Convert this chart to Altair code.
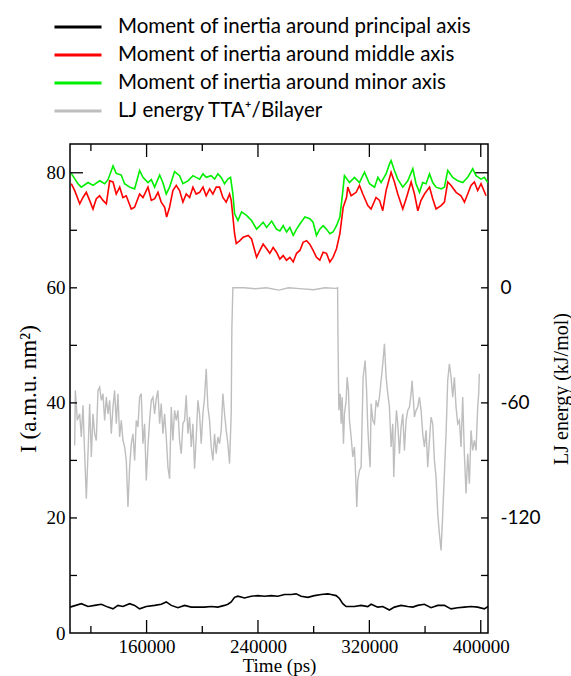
import altair as alt
import pandas as pd

# ---------------- data ----------------
S1 = "Moment of inertia around principal axis"
S2 = "Moment of inertia around middle axis"
S3 = "Moment of inertia around minor axis"
S4 = "LJ energy TTA\u207a/Bilayer"

t_principal = [105000, 113130, 117920, 122700, 127490, 132270, 135860, 139450, 143030, 147820,
               151410, 154990, 159780, 165760, 170540, 174130, 177720, 182500, 187290, 192070,
               196850, 201640, 206420, 211210, 215990, 218380, 220770, 223170, 225560, 230340,
               235130, 239910, 244700, 249480, 254260, 259050, 263830, 267420, 271010, 275790,
               280580, 285360, 290140, 292540, 296130, 298510, 300910, 303300, 309280, 314060,
               318850, 321240, 326020, 329610, 334390, 337980, 342770, 347550, 351140, 354730,
               359510, 364290, 369080, 373860, 378640, 383430, 388210, 392990, 397780, 402560,
               405200]
i_principal = [4.5, 5.1, 4.6, 4.8, 5.0, 4.5, 4.2, 4.8, 4.6, 5.1,
               4.8, 4.2, 4.6, 4.8, 5.0, 5.4, 4.8, 4.4, 4.8, 4.5,
               4.5, 4.5, 4.6, 4.5, 4.8, 5.0, 5.4, 6.2, 6.4, 6.1,
               6.4, 6.5, 6.4, 6.5, 6.4, 6.7, 6.7, 6.8, 6.4, 6.2,
               6.5, 6.7, 6.8, 6.7, 6.5, 6.0, 5.1, 4.6, 4.6, 4.8,
               4.6, 5.0, 4.5, 4.6, 4.0, 4.5, 4.8, 4.6, 4.5, 4.8,
               5.0, 4.4, 4.8, 4.8, 4.2, 4.4, 4.5, 4.6, 4.5, 4.2,
               4.6]

t_middle = [105900, 108400, 112000, 114300, 116700, 119100, 121500, 123900, 126300, 128700,
            131100, 133500, 135900, 138200, 140700, 143000, 145400, 149000, 151400, 155000,
            157400, 161000, 163400, 165800, 168200, 170500, 173000, 174400, 176500, 178900,
            181300, 183700, 186100, 188500, 190900, 193300, 195600, 198100, 200500, 202800,
            205300, 207600, 210000, 212400, 214800, 217200, 219600, 220800, 222000, 223200,
            224400, 227000, 229400, 233000, 235400, 239000, 241400, 243700, 246200, 248500,
            250900, 253300, 255700, 258100, 260500, 262900, 265300, 267700, 270100, 272400,
            274900, 277200, 279600, 282000, 284400, 286800, 289200, 291600, 293900, 296400,
            298800, 301200, 303600, 304500, 306900, 310500, 312900, 315300, 318900, 321200,
            324800, 327300, 329600, 332000, 335600, 338000, 340400, 344000, 346400, 350000,
            352400, 354800, 357100, 359600, 363200, 365500, 367900, 371500, 373900, 376300,
            378700, 382300, 385800, 388300, 390600, 393000, 395400, 397800, 400200, 403800]
i_middle = [78.1, 76.9, 74.6, 75.7, 76.6, 75.2, 73.7, 75.5, 76.0, 75.2,
            74.6, 78.6, 78.4, 76.3, 77.5, 75.7, 76.0, 73.7, 74.0, 76.3,
            75.7, 77.5, 75.2, 75.5, 76.6, 74.9, 74.0, 72.3, 74.0, 76.9,
            77.8, 76.9, 74.9, 76.3, 75.7, 77.5, 76.3, 76.6, 77.5, 76.0,
            77.2, 76.3, 77.5, 77.5, 75.7, 74.9, 76.3, 75.2, 72.3, 69.4,
            67.7, 68.2, 68.8, 69.1, 68.5, 65.3, 66.5, 67.6, 66.8, 66.0,
            67.0, 66.2, 65.0, 65.6, 64.8, 65.3, 64.5, 66.0, 66.5, 67.9,
            68.2, 67.6, 66.5, 65.3, 64.8, 66.2, 66.0, 64.5, 65.3, 66.8,
            69.4, 74.0, 75.7, 77.5, 76.0, 76.6, 77.8, 76.3, 74.3, 73.7,
            75.7, 75.2, 73.4, 76.9, 80.1, 78.4, 76.3, 73.7, 75.5, 78.4,
            76.3, 73.4, 75.2, 76.3, 77.5, 75.5, 73.7, 74.3, 74.9, 78.4,
            77.8, 76.6, 76.0, 74.9, 76.3, 77.8, 78.4, 76.9, 78.1, 76.0]

t_minor = [105900, 110700, 113100, 118000, 121500, 126300, 129900, 132300, 135900, 138200,
           141800, 144200, 147800, 151400, 155000, 157400, 161000, 163400, 165800, 169400,
           171700, 174100, 176500, 180100, 183700, 186100, 189700, 193300, 195600, 198100,
           200500, 202800, 206400, 208900, 211200, 213600, 216000, 218400, 220300, 222000,
           223200, 225600, 228200, 231800, 235400, 239000, 241400, 243700, 246200, 249800,
           253300, 255700, 258100, 260500, 262900, 265300, 267700, 270100, 273700, 277200,
           279600, 282000, 284400, 286800, 289200, 291600, 293900, 296400, 298800, 300700,
           302100, 305700, 309300, 312900, 316500, 320100, 323700, 326100, 328400, 332000,
           334400, 335600, 338000, 340400, 344000, 347600, 351200, 353500, 356000, 358300,
           360700, 363200, 365500, 367900, 371500, 373900, 376300, 379900, 383500, 387100,
           390600, 394200, 396600, 400200, 402600, 405000]
i_minor = [79.9, 78.1, 77.5, 78.3, 77.8, 78.6, 78.1, 78.8, 81.2, 79.9,
           79.6, 78.1, 77.5, 77.2, 80.4, 79.2, 78.3, 78.8, 77.5, 79.6,
           78.3, 76.3, 77.5, 80.2, 79.5, 78.1, 78.6, 79.5, 79.2, 78.9,
           79.8, 79.2, 79.5, 78.9, 79.8, 79.2, 78.1, 78.9, 79.2, 76.3,
           72.9, 71.7, 73.2, 72.6, 71.7, 70.2, 70.8, 71.4, 70.5, 71.6,
           70.2, 69.9, 70.8, 69.7, 70.5, 69.1, 70.2, 71.1, 72.3, 72.0,
           71.4, 69.1, 70.2, 70.8, 70.2, 69.4, 69.7, 70.8, 72.3, 76.3,
           79.5, 78.3, 79.2, 78.3, 80.1, 78.1, 77.5, 79.2, 78.3, 79.8,
           81.5, 82.1, 80.4, 78.9, 77.5, 78.6, 80.7, 78.1, 76.6, 78.3,
           78.1, 79.8, 78.3, 77.5, 77.2, 77.5, 80.4, 79.2, 78.6, 78.3,
           79.2, 80.7, 79.5, 78.9, 79.2, 78.3]

t_lj = [108350, 108830, 110260, 111940, 113130, 114330, 115530, 116720, 117920, 119110,
        120310, 121500, 122700, 123900, 125090, 126290, 127490, 128680, 129880, 131070,
        132270, 133470, 134660, 135860, 137050, 138250, 139450, 140640, 141840, 143030,
        144230, 145430, 146620, 147820, 149010, 150210, 151410, 152600, 153800, 154990,
        156190, 157390, 158580, 159780, 160970, 162170, 163370, 164560, 165760, 166950,
        168150, 169350, 170540, 171740, 172930, 174130, 175330, 176520, 177720, 178910,
        180110, 181310, 182500, 183700, 184890, 186090, 187290, 188480, 189680, 190870,
        192070, 193270, 194460, 195660, 196850, 198050, 199250, 200440, 201640, 202830,
        204030, 205230, 206420, 207620, 208810, 210010, 211210, 212400, 213600, 214790,
        215990, 217190, 218380, 219580, 220770, 221250, 221970,
        230000, 238000, 246000, 255000, 262000, 270000, 280000, 288000, 296000, 297200,
        297340, 298060, 299010, 299730, 300450, 301400, 302120, 303320, 304030, 304990,
        305710, 306900, 308100, 309300, 310010, 310970, 311690, 312880, 314080, 314800,
        315520, 316950, 317910, 318870, 319580, 320540, 321260, 322450, 323650, 324850,
        326040, 327240, 328430, 329630, 330830, 332020, 333220, 334410, 335610, 336810,
        337520, 338480, 339440, 340400, 341590, 342790, 343980, 345180, 346380, 347570,
        348770, 349960, 350680, 351640, 352350, 353550, 354750, 355940, 357140, 358330,
        359530, 360730, 361920, 363120, 364310, 365510, 366710, 367900, 369100, 370290,
        371490, 372690, 373880, 375080, 376270, 377470, 378670, 379860, 381060, 382250,
        383450, 384650, 385840, 387040, 388230, 389430, 390630, 391820, 393020, 394210,
        395410, 396610, 397800, 398520, 399000]
e_lj = [-82.2, -53.5, -69.1, -65.7, -77.8, -61.3, -86.5, -110.0, -86.5, -60.4,
        -88.2, -65.7, -76.1, -79.6, -53.5, -51.8, -58.7, -55.2, -69.1, -57.0,
        -65.7, -58.7, -76.1, -62.2, -53.5, -70.9, -55.2, -77.8, -69.1, -79.6,
        -83.0, -90.0, -114.3, -93.5, -81.3, -76.1, -90.0, -69.1, -72.6, -57.0,
        -55.2, -81.3, -70.9, -100.4, -83.0, -69.1, -58.7, -57.0, -65.7, -57.8,
        -53.5, -70.9, -60.4, -76.1, -65.7, -77.8, -93.5, -99.5, -62.2, -79.6,
        -63.9, -69.1, -63.9, -79.6, -86.5, -70.9, -69.1, -56.1, -76.1, -67.4,
        -83.0, -70.9, -94.3, -77.8, -58.7, -65.7, -81.3, -65.7, -57.0, -42.2,
        -62.2, -69.1, -83.0, -90.0, -76.1, -86.5, -77.8, -81.3, -74.3, -55.2,
        -65.7, -74.3, -81.3, -91.7, -65.7, -21.4, 0.0,
        0.0, -0.5, 0.0, -1.2, 0.0, -0.4, -1.0, 0.0, -0.3, 0.0,
        -17.0, -63.9, -55.2, -70.9, -57.0, -81.3, -65.7, -58.7, -46.6, -53.5,
        -69.1, -77.8, -88.2, -83.0, -95.2, -114.3, -100.4, -95.2, -93.5, -69.1,
        -46.6, -37.9, -51.8, -72.6, -83.0, -93.5, -60.4, -69.1, -70.9, -58.7,
        -62.2, -57.0, -48.3, -39.6, -29.2, -46.6, -55.2, -62.2, -83.0, -70.9,
        -98.7, -77.8, -63.9, -70.9, -86.5, -72.6, -65.7, -84.8, -69.1, -63.9,
        -62.2, -55.2, -48.3, -58.7, -67.4, -63.9, -62.2, -57.0, -63.9, -76.1,
        -83.0, -74.3, -93.5, -79.6, -67.4, -70.9, -90.0, -98.7, -117.8, -128.2,
        -136.9, -117.8, -96.9, -76.1, -48.3, -39.6, -46.6, -57.0, -46.6, -62.2,
        -70.9, -69.1, -83.0, -57.0, -86.5, -107.3, -86.5, -102.1, -74.3, -84.8,
        -79.6, -84.8, -62.2, -55.2, -44.8]

x_major_ticks = [160000, 240000, 320000, 400000]
x_minor_ticks = [120000, 200000, 280000, 360000]
y_long_ticks = [80]
y_short_ticks = [10, 20, 30, 40, 50, 60, 70]
e_long_ticks = [60]
e_short_ticks = [-150, -120, -90, -60, -30, 0, 30]
y_labels = [0, 20, 40, 60, 80]
e_labels = [0, -60, -120]

series_names = [S1, S2, S3, S4]
series_colors = ["#000000", "#ff0000", "#00ee00", "#bebebe"]

# ---------------- tables ----------------
df_I = pd.concat([
    pd.DataFrame({"t": t_principal, "I": i_principal, "series": S1}),
    pd.DataFrame({"t": t_middle, "I": i_middle, "series": S2}),
    pd.DataFrame({"t": t_minor, "I": i_minor, "series": S3}),
], ignore_index=True)
df_E = pd.DataFrame({"t": t_lj, "E": e_lj, "series": S4})

W, H = 418, 489
SERIF = "Liberation Serif"

x_scale = alt.Scale(domain=[105000, 405200], nice=False, zero=False)
yI_scale = alt.Scale(domain=[0, 85], nice=False, zero=False)
yE_scale = alt.Scale(domain=[-180, 75], nice=False, zero=False)

x_axis = alt.Axis(values=x_major_ticks, format="d", ticks=False, domain=False, grid=False,
                  labelFont=SERIF, labelFontSize=19, labelPadding=4, labelFlush=False,
                  labelColor="black", title="Time (ps)", titleFont=SERIF, titleFontSize=19,
                  titleFontWeight="normal", titleColor="black", titlePadding=0)
yI_axis = alt.Axis(values=y_labels, ticks=False, domain=False, grid=False,
                   labelFont=SERIF, labelFontSize=19, labelPadding=5, labelFlush=False,
                   labelColor="black", title="I (a.m.u. nm\u00b2)", titleFont=SERIF,
                   titleFontSize=23, titleFontWeight="normal", titleColor="black",
                   titlePadding=6)
yE_axis = alt.Axis(orient="right", values=e_labels, labelExpr="'' + datum.value",
                   ticks=False, domain=False, grid=False, labelFont="Lato",
                   labelFontSize=19, labelPadding=12, labelFlush=False, labelColor="black",
                   title="LJ energy (kJ/mol)", titleFont=SERIF, titleFontSize=20,
                   titleFontWeight="normal", titleColor="black", titlePadding=31,
                   titleAngle=270)

color = alt.Color("series:N",
                  scale=alt.Scale(domain=series_names, range=series_colors),
                  sort=series_names,
                  legend=alt.Legend(title=None, orient="none", legendX=-3, legendY=-128,
                                    symbolType="M-2.5,0H2.5", symbolSize=354,
                                    symbolStrokeWidth=3, labelFont="Lato",
                                    labelFontSize=20.5, labelOffset=29, rowPadding=6,
                                    padding=0, labelLimit=600, labelColor="black"))

X = alt.X("t:Q", scale=x_scale, axis=x_axis)
YI = alt.Y("I:Q", scale=yI_scale, axis=yI_axis)
YE = alt.Y("E:Q", scale=yE_scale, axis=yE_axis)

lines_I = alt.Chart(df_I).mark_line(strokeWidth=1.6).encode(x=X, y=YI, color=color)
line_E = alt.Chart(df_E).mark_line(strokeWidth=1.4).encode(x=X, y=YE, color=color)

tick_style = dict(color="black", strokeWidth=1.3)

def xticks(vals, length):
    d = pd.DataFrame({"t": vals})
    bottom = alt.Chart(d).mark_rule(**tick_style).encode(
        x=X, y=alt.value(H), y2=alt.value(H - length))
    top = alt.Chart(d).mark_rule(**tick_style).encode(
        x=X, y=alt.value(0), y2=alt.value(length))
    return [bottom, top]

def yticks(vals, length):
    d = pd.DataFrame({"I": vals})
    return [alt.Chart(d).mark_rule(**tick_style).encode(
        y=YI, x=alt.value(0), x2=alt.value(length))]

def eticks(vals, length):
    d = pd.DataFrame({"E": vals})
    return [alt.Chart(d).mark_rule(**tick_style).encode(
        y=YE, x=alt.value(W), x2=alt.value(W - length))]

left = alt.layer(
    lines_I,
    *xticks(x_major_ticks, 13), *xticks(x_minor_ticks, 7),
    *yticks(y_long_ticks, 13), *yticks(y_short_ticks, 7),
)
right = alt.layer(line_E, *eticks(e_long_ticks, 13), *eticks(e_short_ticks, 7))

chart = alt.layer(right, left).resolve_scale(y="independent").properties(
    width=W, height=H,
    padding={"left": 70, "top": 144, "right": 83, "bottom": 43},
    autosize=alt.AutoSizeParams(type="none"),
    background="white",
).configure_view(stroke="black", strokeWidth=1.5).configure_axis(grid=False)

chart.save("out.html", embed_options={"renderer": "svg", "actions": False})
